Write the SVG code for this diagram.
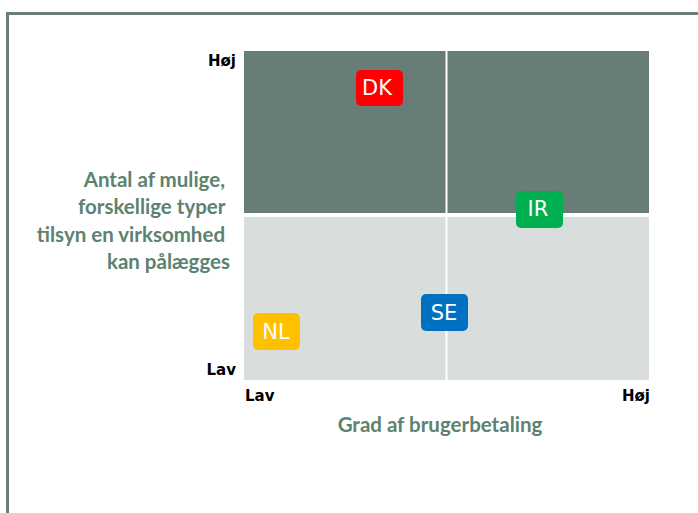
<svg xmlns="http://www.w3.org/2000/svg" width="698" height="513" viewBox="0 0 698 513">
<style>
.frame{fill:none;stroke:#6b7f79;stroke-width:3}
.dark{fill:#687d77}
.light{fill:#d9dedd}
.div{stroke:#ffffff;stroke-width:2}
.tick{font-family:"DejaVu Sans",sans-serif;font-weight:bold;font-size:15px;fill:#000}
.axis{font-family:Lato,"Liberation Sans",sans-serif;font-weight:bold;font-size:20.5px;fill:#5c8270}
.badge{font-family:"DejaVu Sans",sans-serif;font-size:21px;fill:#fff;text-anchor:middle}
</style>
<rect width="698" height="513" fill="#fff"/>
<path class="frame" d="M7.5,513 V13.5 H698"/>
<g id="quadrants">
<rect class="dark" x="244" y="51" width="405" height="162"/>
<rect class="light" x="244" y="217" width="405" height="163"/>
<line class="div" x1="446.5" y1="51" x2="446.5" y2="380"/>
</g>
<g id="y-axis-label">
<text class="axis" text-anchor="end">
<tspan x="230" y="187">Antal af mulige,</tspan>
<tspan x="230" y="214">forskellige typer</tspan>
<tspan x="230" y="242">tilsyn en virksomhed</tspan>
<tspan x="230" y="269">kan pålægges</tspan>
</text>
</g>
<g id="x-axis-label">
<text class="axis" x="440" y="432" text-anchor="middle">Grad af brugerbetaling</text>
</g>
<g id="ticks">
<text class="tick" x="236" y="66" text-anchor="end">Høj</text>
<text class="tick" x="236" y="375" text-anchor="end">Lav</text>
<text class="tick" x="245" y="401">Lav</text>
<text class="tick" x="650" y="401" text-anchor="end">Høj</text>
</g>
<g id="DK">
<rect x="356" y="70" width="47" height="36" rx="5" fill="#ff0000"/>
<text class="badge" x="377" y="95">DK</text>
</g>
<g id="IR">
<rect x="516" y="191" width="47" height="37" rx="5" fill="#00b050"/>
<text class="badge" x="538" y="216">IR</text>
</g>
<g id="SE">
<rect x="421" y="294" width="47" height="37" rx="5" fill="#0070c0"/>
<text class="badge" x="444" y="320">SE</text>
</g>
<g id="NL">
<rect x="253" y="313" width="47" height="37" rx="5" fill="#ffc000"/>
<text class="badge" x="276" y="339">NL</text>
</g>
</svg>
